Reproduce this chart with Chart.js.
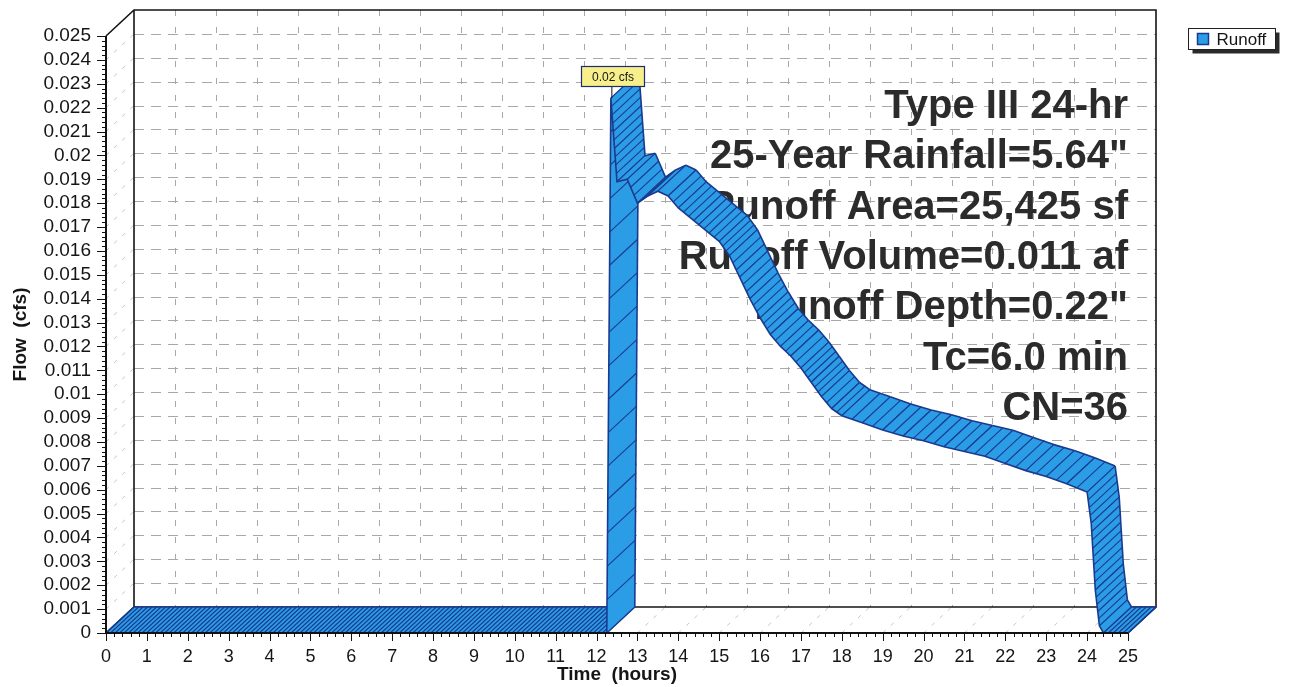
<!DOCTYPE html>
<html>
<head>
<meta charset="utf-8">
<title>Runoff hydrograph</title>
<script src="https://cdn.jsdelivr.net/npm/chart.js@4.4.1/dist/chart.umd.min.js"></script>
<style>
  html, body { margin: 0; padding: 0; background: #ffffff; }
  #wrap { width: 1293px; height: 687px; position: relative; }
</style>
</head>
<body>
<div id="wrap"><canvas id="chart" width="1293" height="687"></canvas></div>
<script>
// Runoff hydrograph: time (hours) vs flow (cfs)
const hours = [0, 12.25, 12.35, 12.5, 12.75, 13.0, 13.25, 13.5, 13.75, 14.0,
  14.5, 15.0, 15.25, 15.5, 15.75, 16.0, 16.25, 16.5, 16.75, 17.0,
  17.25, 17.5, 17.75, 18.0, 18.5, 19.0, 19.5, 20.0, 20.5, 21.0,
  21.5, 22.0, 22.5, 23.0, 23.5, 24.0, 24.1, 24.2, 24.3, 24.4, 25];
const flowCfs = [0, 0, 0.0224, 0.0189, 0.0190, 0.0180, 0.0183, 0.0185, 0.0183, 0.0178,
  0.0171, 0.0164, 0.0158, 0.0149, 0.0140, 0.0132, 0.0125, 0.0120, 0.0116, 0.0111,
  0.0105, 0.0099, 0.0094, 0.0091, 0.0088, 0.0085, 0.00825, 0.00805, 0.0078, 0.0076,
  0.0074, 0.0071, 0.0068, 0.00655, 0.00625, 0.0059, 0.0046, 0.0018, 0.0003, 0, 0];

const hourTicks = [0, 1, 2, 3, 4, 5, 6, 7, 8, 9, 10, 11, 12, 13, 14, 15, 16, 17, 18, 19, 20, 21, 22, 23, 24, 25];
const flowMax = 0.025;
const flowStep = 0.001;

const seriesName = 'Runoff';
const infoLines = [
  'Type III 24-hr',
  '25-Year Rainfall=5.64"',
  'Runoff Area=25,425 sf',
  'Runoff Volume=0.011 af',
  'Runoff Depth=0.22"',
  'Tc=6.0 min',
  'CN=36'
];

// pseudo-3D depth of the plot box, in pixels
const DX = 28, DY = -26;
const FONT = "'Liberation Sans', Arial, Helvetica, sans-serif";
const RIBBON_FILL = '#2b9de6';
const RIBBON_LINE = '#1a3a8f';

function line(ctx, x1, y1, x2, y2) {
  ctx.beginPath(); ctx.moveTo(x1, y1); ctx.lineTo(x2, y2); ctx.stroke();
}

const box3d = {
  id: 'box3d',
  beforeDatasetsDraw(chart) {
    const { ctx, chartArea: a, scales: { x, y } } = chart;
    const bl = a.left + DX, br = a.right + DX, bt = a.top + DY, bb = a.bottom + DY;
    ctx.save();

    // back wall grid
    ctx.lineWidth = 1;
    ctx.strokeStyle = '#a8a8a8';
    ctx.setLineDash([10, 7]);
    for (let k = 1; k * flowStep < flowMax - 1e-9; k++) {
      const yy = Math.round(y.getPixelForValue(k * flowStep) + DY) + 0.5;
      line(ctx, bl, yy, br, yy);
    }
    ctx.setLineDash([6, 11]);
    hourTicks.slice(1, -1).forEach(h => {
      const xx = Math.round(x.getPixelForValue(h) + DX) + 0.5;
      line(ctx, xx, bt, xx, bb);
    });

    // depth guides on the side wall and floor
    ctx.strokeStyle = '#c6c6c6';
    ctx.setLineDash([4, 7]);
    for (let k = 1; k * flowStep < flowMax - 1e-9; k++) {
      const yy = y.getPixelForValue(k * flowStep);
      line(ctx, a.left, yy, a.left + DX, yy + DY);
    }
    hourTicks.slice(1, -1).forEach(h => {
      const xx = x.getPixelForValue(h);
      line(ctx, xx, a.bottom, xx + DX, a.bottom + DY);
    });
    ctx.setLineDash([]);

    // frame
    ctx.strokeStyle = '#151515';
    ctx.lineWidth = 1.6;
    ctx.beginPath();
    ctx.moveTo(a.left, a.top);
    ctx.lineTo(bl, bt);
    ctx.lineTo(br, bt);
    ctx.lineTo(br, bb);
    ctx.lineTo(bl, bb);
    ctx.lineTo(bl, bt);
    ctx.moveTo(br, bb);
    ctx.lineTo(a.right, a.bottom);
    ctx.moveTo(a.left, a.bottom);
    ctx.lineTo(bl, bb);
    ctx.stroke();

    // storm description
    ctx.fillStyle = '#2b2b2b';
    ctx.font = 'bold 40px ' + FONT;
    ctx.textAlign = 'right';
    ctx.textBaseline = 'alphabetic';
    infoLines.forEach((t, i) => ctx.fillText(t, a.right, a.top + 82 + i * 50.3));

    // hydrograph ribbon, swept back along the depth direction
    const pts = chart.data.datasets[0].data.map(p => ({
      x: x.getPixelForValue(p.x), y: y.getPixelForValue(p.y), v: p.y
    }));
    ctx.lineJoin = 'round';
    for (let i = 0; i < pts.length - 1; i++) {
      const p = pts[i], q = pts[i + 1];
      ctx.beginPath();
      ctx.moveTo(p.x, p.y);
      ctx.lineTo(q.x, q.y);
      ctx.lineTo(q.x + DX, q.y + DY);
      ctx.lineTo(p.x + DX, p.y + DY);
      ctx.closePath();
      ctx.fillStyle = RIBBON_FILL;
      ctx.fill();

      // hatch strokes across the ribbon
      const dx = q.x - p.x, dy = q.y - p.y;
      const len = Math.hypot(dx, dy);
      let step;
      if (p.v === 0 && q.v === 0) step = 4.5;
      else if (Math.abs(dy) > 2 * Math.abs(dx)) step = len > 300 ? 33 : 8;
      else if (Math.abs(dy) < 0.5 * Math.abs(dx)) step = 9;
      else step = 6.5;
      const n = Math.max(1, Math.round(len / step));
      ctx.strokeStyle = RIBBON_LINE;
      ctx.lineWidth = 1.1;
      for (let k = 0; k <= n; k++) {
        const sx = p.x + dx * k / n, sy = p.y + dy * k / n;
        line(ctx, sx, sy, sx + DX, sy + DY);
      }
      ctx.lineWidth = 1.6;
      line(ctx, p.x + DX, p.y + DY, q.x + DX, q.y + DY);
    }
    ctx.lineWidth = 1.6;
    const f = pts[0], l = pts[pts.length - 1];
    line(ctx, f.x, f.y, f.x + DX, f.y + DY);
    line(ctx, l.x, l.y, l.x + DX, l.y + DY);
    ctx.restore();
  },

  afterDatasetsDraw(chart) {
    const { ctx, chartArea: a, scales: { x, y } } = chart;
    ctx.save();
    ctx.strokeStyle = '#111';

    // front axes with major and minor ticks
    ctx.lineWidth = 2;
    line(ctx, a.left, a.top, a.left, a.bottom + 1);
    line(ctx, a.left - 1, a.bottom, a.right, a.bottom);
    ctx.lineWidth = 1;
    for (let k = 0; k <= 125; k++) {
      const yy = Math.round(y.getPixelForValue(k * flowMax / 125)) + 0.5;
      const len = k % 5 === 0 ? 9 : 4;
      line(ctx, a.left - len, yy, a.left, yy);
    }
    for (let k = 0; k <= 125; k++) {
      const xx = Math.round(x.getPixelForValue(k * 0.2)) + 0.5;
      const len = k % 5 === 0 ? 8 : 4;
      line(ctx, xx, a.bottom, xx, a.bottom + len);
    }

    // peak flow tag
    const data = chart.data.datasets[0].data;
    let im = 0;
    data.forEach((p, i) => { if (p.y > data[im].y) im = i; });
    const px = x.getPixelForValue(data[im].x), py = y.getPixelForValue(data[im].y);
    const tag = data[im].y.toFixed(2) + ' cfs';
    const bw = 63, bh = 20, bx = Math.round(px - bw / 2 + 2) + 0.5, by = Math.round(py - 12 - bh) + 0.5;
    ctx.lineWidth = 1;
    line(ctx, px + 1, py, px + 1, by + bh);
    ctx.fillStyle = '#f6ef8a';
    ctx.fillRect(bx, by, bw, bh);
    ctx.strokeStyle = '#1d2c6e';
    ctx.lineWidth = 1.2;
    ctx.strokeRect(bx, by, bw, bh);
    ctx.fillStyle = '#151515';
    ctx.font = '12px ' + FONT;
    ctx.textAlign = 'center';
    ctx.textBaseline = 'middle';
    ctx.fillText(tag, bx + bw / 2, by + bh / 2 + 1);

    // legend
    const lx = 1188.5, ly = 28.5, lw = 87, lh = 21;
    ctx.fillStyle = '#2a2a2a';
    ctx.fillRect(lx + 4, ly + 4, lw, lh);
    ctx.fillStyle = '#ffffff';
    ctx.fillRect(lx, ly, lw, lh);
    ctx.strokeStyle = '#222';
    ctx.lineWidth = 1;
    ctx.strokeRect(lx, ly, lw, lh);
    ctx.fillStyle = RIBBON_FILL;
    ctx.fillRect(lx + 9, ly + 5, 11, 11);
    ctx.strokeStyle = RIBBON_LINE;
    ctx.lineWidth = 1.5;
    ctx.strokeRect(lx + 9, ly + 5, 11, 11);
    ctx.fillStyle = '#151515';
    ctx.font = '17px ' + FONT;
    ctx.textAlign = 'left';
    ctx.textBaseline = 'middle';
    ctx.fillText(chart.data.datasets[0].label, lx + 28, ly + lh / 2 + 1);
    ctx.restore();
  }
};

new Chart(document.getElementById('chart'), {
  type: 'line',
  data: {
    datasets: [{
      label: seriesName,
      data: hours.map((h, i) => ({ x: h, y: flowCfs[i] })),
      borderColor: RIBBON_LINE,
      borderWidth: 1.6,
      pointRadius: 0,
      fill: false,
      tension: 0
    }]
  },
  options: {
    responsive: false,
    animation: false,
    devicePixelRatio: 1,
    layout: { padding: { left: 0, right: 165, top: 36, bottom: 0 } },
    plugins: { legend: { display: false }, tooltip: { enabled: false } },
    scales: {
      x: {
        type: 'linear', min: hourTicks[0], max: hourTicks[hourTicks.length - 1],
        afterBuildTicks: s => { s.ticks = hourTicks.map(v => ({ value: v })); },
        grid: { display: false, drawTicks: false },
        border: { display: false },
        ticks: { padding: 13, autoSkip: false, maxRotation: 0, color: '#151515', font: { family: FONT, size: 18 } },
        title: { display: true, text: 'Time  (hours)', color: '#151515', font: { family: FONT, size: 19, weight: 'bold' }, padding: { top: 0, bottom: 1 } },
        afterFit: s => { s.height = 54; }
      },
      y: {
        type: 'linear', min: 0, max: flowMax,
        grid: { display: false, drawTicks: false },
        border: { display: false },
        ticks: {
          stepSize: flowStep, autoSkip: false, padding: 15, color: '#151515',
          font: { family: FONT, size: 19 },
          callback: v => String(+v.toFixed(3))
        },
        title: { display: true, text: 'Flow  (cfs)', color: '#151515', font: { family: FONT, size: 19, weight: 'bold' }, padding: { top: 9, bottom: 0 } },
        afterFit: s => { s.width = 106; }
      }
    }
  },
  plugins: [box3d]
});
</script>
</body>
</html>
